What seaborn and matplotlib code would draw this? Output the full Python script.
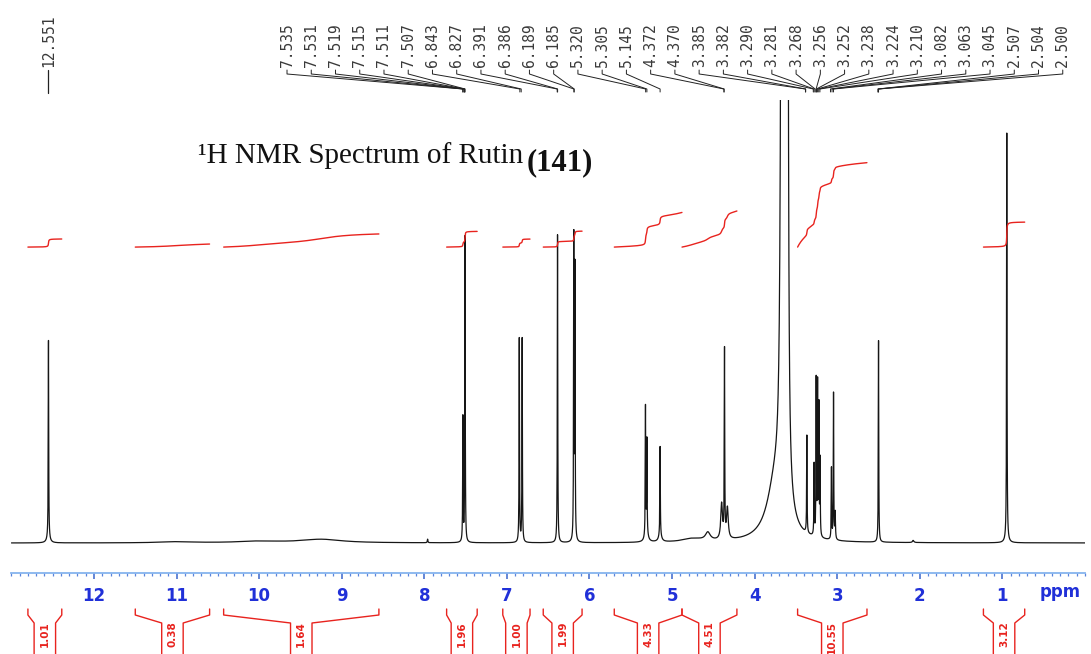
import numpy as np
import pandas as pd
import seaborn as sns
import matplotlib.pyplot as plt
from matplotlib.ticker import MultipleLocator

# peaks: shift (ppm), height (% of frame), half width (ppm)
peak_ppm = [12.551, 12.551, 11.0, 10.0, 9.25, 7.96, 7.533, 7.507, 6.85, 6.815, 6.387,
            6.19, 6.176, 5.322, 5.305, 5.31, 5.145, 5.145, 4.75, 4.567, 4.40, 4.365, 4.33,
            3.75, 3.67, 3.63, 3.60, 3.368, 3.28, 3.255, 3.238, 3.222, 3.208,
            3.07, 3.045, 3.025, 2.50, 2.08, 0.947, 0.947]
peak_height = [44.5, 1.2, 0.25, 0.35, 0.8, 0.8, 28, 69, 46, 46, 69.5,
               68, 61, 29, 21, 2.0, 20, 1.5, 0.8, 1.8, 8, 42, 7,
               12, 250, 300, 150, 22, 16, 35, 34, 29, 17,
               16, 33, 6, 45.5, 0.5, 91.5, 1.0]
peak_width = [0.003, 0.02, 0.25, 0.3, 0.3, 0.004, 0.003, 0.003, 0.003, 0.003, 0.003,
              0.003, 0.003, 0.003, 0.003, 0.02, 0.003, 0.02, 0.15, 0.035, 0.012, 0.003, 0.012,
              0.12, 0.012, 0.012, 0.008, 0.003, 0.003, 0.003, 0.003, 0.003, 0.003,
              0.003, 0.003, 0.004, 0.003, 0.01, 0.003, 0.02]

# peak picking labels along the top
pick_first = ['12.551']
pick_labels = ['7.535', '7.531', '7.519', '7.515', '7.511', '7.507', '6.843', '6.827',
               '6.391', '6.386', '6.189', '6.185', '5.320', '5.305', '5.145', '4.372',
               '4.370', '3.385', '3.382', '3.290', '3.281', '3.268', '3.256', '3.252',
               '3.238', '3.224', '3.210', '3.082', '3.063', '3.045', '2.507', '2.504', '2.500']

# integration regions (ppm) and integral values
int_start = [12.80, 11.50, 10.43, 7.73, 7.05, 6.56, 5.70, 4.88, 3.48, 1.23]
int_end = [12.39, 10.60, 8.55, 7.36, 6.72, 6.09, 4.88, 4.215, 2.64, 0.73]
int_value = ['1.01', '0.38', '1.64', '1.96', '1.00', '1.99', '4.33', '4.51', '10.55', '3.12']

# spectrum built from the peak list
ppm = np.unique(np.concatenate([np.linspace(0.0, 13.0, 18000), peak_ppm]))
intensity = np.zeros_like(ppm)
for p0, h, w in zip(peak_ppm, peak_height, peak_width):
    intensity += h * w**2 / ((ppm - p0)**2 + w**2)
spec = pd.DataFrame({'ppm': ppm, 'intensity': intensity})

fig = plt.figure(figsize=(10.91, 6.54), dpi=100)
sns.set_style('white')
plt.rcParams['font.family'] = ['DejaVu Sans']
ax = fig.add_axes([11.4 / 1091, 81 / 654, (1085 - 11.4) / 1091, 473 / 654])

sns.lineplot(data=spec, x='ppm', y='intensity', ax=ax, color='#161616', lw=0.9, estimator=None)

# integral curves
base, unit = 66.8, 8 / 4.43
red = '#e8231e'
for s, e, v in zip(int_start, int_end, int_value):
    seg = spec[(spec.ppm <= s) & (spec.ppm >= e)].sort_values('ppm', ascending=False)
    area = np.concatenate([[0], np.cumsum(0.5 * (seg.intensity.values[1:] + seg.intensity.values[:-1])
                                          * np.abs(np.diff(seg.ppm.values)))])
    curve = base + float(v) * unit * area / area[-1]
    sns.lineplot(x=seg.ppm.values, y=curve, ax=ax, color=red, lw=1.0, estimator=None, sort=False)

ax.set_xlim(13.0, 0.0)
ax.set_ylim(-6.77, 100)
ax.set_xlabel('')
ax.set_ylabel('')
ax.set_yticks([])
for side in ['top', 'left', 'right']:
    ax.spines[side].set_visible(False)
ax.spines['bottom'].set_color('#86b4ee')
ax.spines['bottom'].set_linewidth(1.3)
ax.set_xticks(range(1, 13), [str(i) for i in range(1, 13)], fontweight='bold')
ax.xaxis.set_minor_locator(MultipleLocator(0.1))
ax.tick_params(axis='x', which='both', bottom=True, direction='out')
ax.tick_params(axis='x', which='major', length=4.5, width=1.1, color='#3a66cc', pad=5.6,
               labelsize=12, labelcolor='#2030d8')
ax.tick_params(axis='x', which='minor', length=2.0, width=0.9, color='#5a84dc')

trans = ax.get_xaxis_transform()


def fy(ypx):
    return (573 - ypx) / 473


def px2ppm(xpx):
    return 13.0 - (xpx - 11.4) / 82.58


ax.text(px2ppm(1060), fy(592), 'ppm', transform=trans, ha='center', va='center',
        fontsize=12, fontweight='bold', color='#2030d8')

# peak labels with leader lines
lab_color = '#3a3a3a'
x0 = float(pick_first[0])
ax.text(x0, fy(67), pick_first[0], transform=trans, rotation=90, ha='center', va='bottom',
        fontsize=10.5, family='DejaVu Sans Mono', color=lab_color)
ax.plot([x0, x0], [fy(70), fy(93)], transform=trans, color='#222222', lw=0.9, clip_on=False)
label_x = np.linspace(px2ppm(287), px2ppm(1062.7), len(pick_labels))
for lx, lab in zip(label_x, pick_labels):
    tx = float(lab)
    ax.text(lx, fy(67), lab, transform=trans, rotation=90, ha='center', va='bottom',
            fontsize=10.5, family='DejaVu Sans Mono', color=lab_color)
    ax.plot([lx, lx, tx, tx], [fy(70), fy(74), fy(89), fy(92)], transform=trans,
            color='#222222', lw=0.7, clip_on=False)

# integral brackets under the axis
for s, e, v in zip(int_start, int_end, int_value):
    c = (s + e) / 2
    v1, v2 = c + 0.13, c - 0.13
    ax.plot([s, s, v1, v1], [fy(609), fy(615), fy(623), fy(660)], transform=trans,
            color=red, lw=1.0, clip_on=False)
    ax.plot([e, e, v2, v2], [fy(609), fy(615), fy(623), fy(660)], transform=trans,
            color=red, lw=1.0, clip_on=False)
    ax.text(c, fy(621), v, transform=trans, rotation=90, ha='center', va='top',
            fontsize=7.5, fontweight='bold', color=red)

# title
fig.text(523 / 1091, 1 - 163 / 654, '\u00b9H NMR Spectrum of Rutin', ha='right', va='baseline',
         fontsize=21, family='Liberation Serif', color='#111111')
fig.text(527 / 1091, 1 - 170 / 654, '(141)', ha='left', va='baseline',
         fontsize=22, family='Liberation Serif', fontweight='bold', color='#111111')

fig.savefig('out.png', dpi=100, facecolor='white')
